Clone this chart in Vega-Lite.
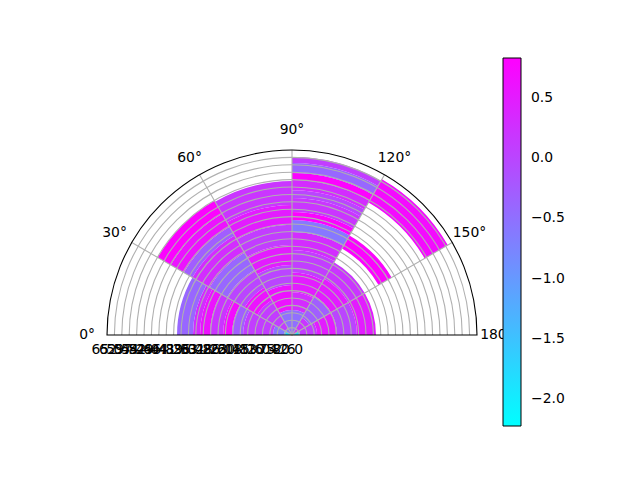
{
  "$schema": "https://vega.github.io/schema/vega-lite/v6.json",
  "width": 370,
  "height": 290,
  "autosize": {"type": "none"},
  "padding": {"left": 107, "top": 190, "right": 163, "bottom": 0},
  "background": "white",
  "config": {"view": {"stroke": null}, "text": {"font": "DejaVu Sans", "fontSize": 13.9, "fill": "black"}},
  "datasets": {
    "bars": [
      {"a0": 0, "a1": 30, "r0": 0, "r1": 2.8, "value": -1.8},
      {"a0": 0, "a1": 30, "r0": 2.8, "r1": 6.7, "value": -0.6},
      {"a0": 0, "a1": 30, "r0": 6.7, "r1": 17.2, "value": 0.1},
      {"a0": 0, "a1": 30, "r0": 17.2, "r1": 21.1, "value": -0.3},
      {"a0": 0, "a1": 30, "r0": 21.1, "r1": 24.2, "value": 0.7},
      {"a0": 0, "a1": 30, "r0": 24.2, "r1": 28.8, "value": 0.2},
      {"a0": 0, "a1": 30, "r0": 28.8, "r1": 32.3, "value": 0.6},
      {"a0": 0, "a1": 30, "r0": 32.3, "r1": 34.8, "value": 0.3},
      {"a0": 0, "a1": 30, "r0": 34.8, "r1": 40.4, "value": -0.4},
      {"a0": 30, "a1": 60, "r0": 0, "r1": 2.8, "value": -0.6},
      {"a0": 30, "a1": 60, "r0": 2.8, "r1": 14.1, "value": 0.1},
      {"a0": 30, "a1": 60, "r0": 14.1, "r1": 19.3, "value": 0.6},
      {"a0": 30, "a1": 60, "r0": 19.3, "r1": 26.4, "value": 0.0},
      {"a0": 30, "a1": 60, "r0": 26.4, "r1": 33.4, "value": -0.4},
      {"a0": 30, "a1": 60, "r0": 33.4, "r1": 40.4, "value": 0.3},
      {"a0": 30, "a1": 60, "r0": 40.4, "r1": 43.9, "value": -0.3},
      {"a0": 30, "a1": 60, "r0": 43.9, "r1": 49.2, "value": 0.6},
      {"a0": 30, "a1": 60, "r0": 49.2, "r1": 54.5, "value": 0.8},
      {"a0": 60, "a1": 90, "r0": 0, "r1": 8.8, "value": -0.5},
      {"a0": 60, "a1": 90, "r0": 8.8, "r1": 17.6, "value": 0.6},
      {"a0": 60, "a1": 90, "r0": 17.6, "r1": 24.6, "value": 0.0},
      {"a0": 60, "a1": 90, "r0": 24.6, "r1": 31.6, "value": 0.5},
      {"a0": 60, "a1": 90, "r0": 31.6, "r1": 38.7, "value": 0.1},
      {"a0": 60, "a1": 90, "r0": 38.7, "r1": 45.7, "value": 0.5},
      {"a0": 60, "a1": 90, "r0": 45.7, "r1": 54.1, "value": 0.2},
      {"a0": 90, "a1": 120, "r0": 0, "r1": 8.8, "value": -0.5},
      {"a0": 90, "a1": 120, "r0": 8.8, "r1": 15, "value": 0.3},
      {"a0": 90, "a1": 120, "r0": 15, "r1": 22, "value": 0.5},
      {"a0": 90, "a1": 120, "r0": 22, "r1": 29.9, "value": 0.1},
      {"a0": 90, "a1": 120, "r0": 29.9, "r1": 36.2, "value": 0.3},
      {"a0": 90, "a1": 120, "r0": 36.2, "r1": 40.4, "value": -0.6},
      {"a0": 90, "a1": 120, "r0": 40.4, "r1": 43.2, "value": 0.8},
      {"a0": 90, "a1": 120, "r0": 43.2, "r1": 48.1, "value": 0.2},
      {"a0": 90, "a1": 120, "r0": 48.1, "r1": 50.9, "value": 0.0},
      {"a0": 90, "a1": 120, "r0": 50.9, "r1": 54.5, "value": 0.3},
      {"a0": 90, "a1": 120, "r0": 54.5, "r1": 56.9, "value": 0.8},
      {"a0": 90, "a1": 120, "r0": 56.9, "r1": 60.4, "value": -0.4},
      {"a0": 90, "a1": 120, "r0": 60.4, "r1": 62.5, "value": 0.1},
      {"a0": 120, "a1": 150, "r0": 0, "r1": 7, "value": 0.2},
      {"a0": 120, "a1": 150, "r0": 7, "r1": 15.8, "value": -0.3},
      {"a0": 120, "a1": 150, "r0": 15.8, "r1": 22.8, "value": 0.5},
      {"a0": 120, "a1": 150, "r0": 22.8, "r1": 29.5, "value": 0.2},
      {"a0": 120, "a1": 150, "r0": 35.1, "r1": 40.4, "value": 0.8},
      {"a0": 120, "a1": 150, "r0": 53.8, "r1": 63.2, "value": 0.7},
      {"a0": 150, "a1": 180, "r0": 0, "r1": 2.8, "value": -1.8},
      {"a0": 150, "a1": 180, "r0": 2.8, "r1": 8.8, "value": 0.1},
      {"a0": 150, "a1": 180, "r0": 8.8, "r1": 15.8, "value": 0.5},
      {"a0": 150, "a1": 180, "r0": 15.8, "r1": 22.8, "value": 0.0},
      {"a0": 150, "a1": 180, "r0": 22.8, "r1": 29.5, "value": 0.5}
    ],
    "rticks": [
      {"r": 0}, {"r": 2.6}, {"r": 5.2}, {"r": 7.8}, {"r": 10.4}, {"r": 13}, {"r": 15.6}, {"r": 18.2}, {"r": 20.8}, {"r": 23.4}, {"r": 26}, {"r": 28.6}, {"r": 31.2}, {"r": 33.8}, {"r": 36.4}, {"r": 39}, {"r": 41.6}, {"r": 44.2}, {"r": 46.8}, {"r": 49.4}, {"r": 52}, {"r": 54.6}, {"r": 57.2}, {"r": 59.8}, {"r": 62.4}, {"r": 65}
    ],
    "spokes": [{"deg": 30}, {"deg": 60}, {"deg": 90}, {"deg": 120}, {"deg": 150}],
    "tlabels": [
      {"deg": 0, "label": "0°"}, {"deg": 30, "label": "30°"}, {"deg": 60, "label": "60°"}, {"deg": 90, "label": "90°"},
      {"deg": 120, "label": "120°"}, {"deg": 150, "label": "150°"}, {"deg": 180, "label": "180°"}
    ]
  },
  "layer": [
    {
      "data": {"name": "bars"},
      "mark": {"type": "arc", "stroke": null},
      "encoding": {
        "theta": {"field": "a0", "type": "quantitative", "stack": null, "scale": {"type": "linear", "domain": [0, 180], "range": [-1.5707963, 1.5707963]}},
        "theta2": {"field": "a1"},
        "radius": {"field": "r1", "type": "quantitative", "scale": {"type": "linear", "domain": [0, 65], "range": [0, 185], "zero": true}},
        "radius2": {"field": "r0"},
        "color": {
          "field": "value", "type": "quantitative",
          "scale": {"type": "linear", "domain": [-2.221, 0.831], "range": ["#00ffff", "#ff00ff"], "interpolate": "rgb"},
          "legend": {
            "orient": "none", "legendX": 396, "legendY": -132, "direction": "vertical",
            "gradientLength": 368, "gradientThickness": 18, "title": null,
            "values": [-2, -1.5, -1, -0.5, 0, 0.5], "format": ".1f",
            "labelFont": "DejaVu Sans", "labelFontSize": 13.9, "labelColor": "black", "labelOffset": 10,
            "labelOverlap": false, "gradientStrokeColor": "black", "gradientStrokeWidth": 1
          }
        }
      }
    },
    {
      "data": {"name": "rticks"},
      "transform": [{"filter": "datum.r > 0 && datum.r < 65"}],
      "mark": {"type": "arc", "fillOpacity": 0, "stroke": "#b0b0b0", "strokeWidth": 1.1},
      "encoding": {
        "theta": {"datum": 0, "type": "quantitative"},
        "theta2": {"datum": 180},
        "radius": {"field": "r", "type": "quantitative"},
        "radius2": {"field": "r"}
      }
    },
    {
      "data": {"name": "spokes"},
      "mark": {"type": "arc", "fillOpacity": 0, "stroke": "#b0b0b0", "strokeWidth": 1.1},
      "encoding": {
        "theta": {"field": "deg", "type": "quantitative", "stack": null},
        "theta2": {"field": "deg"},
        "radius": {"datum": 65, "type": "quantitative"},
        "radius2": {"datum": 0}
      }
    },
    {
      "data": {"values": [{"frame": 1}]},
      "mark": {"type": "arc", "fillOpacity": 0, "stroke": "black", "strokeWidth": 1.1},
      "encoding": {
        "theta": {"datum": 0, "type": "quantitative"},
        "theta2": {"datum": 180},
        "radius": {"datum": 65, "type": "quantitative"},
        "radius2": {"datum": 0}
      }
    },
    {
      "data": {"name": "tlabels"},
      "mark": {"type": "text", "align": "center", "baseline": "middle"},
      "encoding": {
        "theta": {"field": "deg", "type": "quantitative", "stack": null},
        "radius": {"datum": 72, "type": "quantitative"},
        "text": {"field": "label"}
      }
    },
    {
      "data": {"name": "rticks"},
      "mark": {"type": "text", "align": "center", "baseline": "middle", "dy": 15},
      "encoding": {
        "theta": {"datum": 0, "type": "quantitative"},
        "radius": {"field": "r", "type": "quantitative"},
        "text": {"field": "r", "type": "quantitative", "format": ".1f"}
      }
    }
  ]
}
